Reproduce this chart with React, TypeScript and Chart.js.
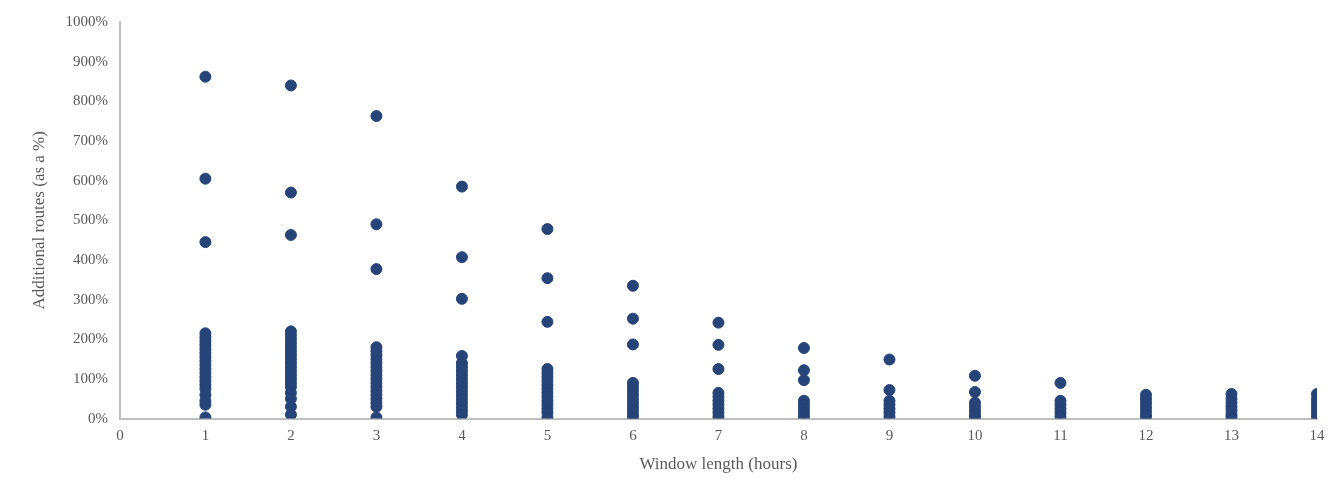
import React, { useEffect, useRef } from "react";
import { Chart, registerables } from "chart.js";
Chart.register(...registerables);

const xTicks = [0,1,2,3,4,5,6,7,8,9,10,11,12,13,14];
const c1 = [862,605,445,215,205,195,185,175,165,155,145,135,125,115,105,95,85,75,60,45,35,3];
const c2 = [840,570,463,220,210,200,190,180,170,160,150,140,130,120,110,100,90,80,65,50,30,10];
const c3 = [763,490,377,180,170,160,150,140,130,120,110,100,90,80,70,60,50,40,30,3];
const c4 = [585,407,302,158,140,130,120,110,100,90,80,70,60,50,40,30,20,10];
const c5 = [478,354,244,125,115,105,95,85,75,65,55,45,35,25,15,3];
const c6 = [335,252,187,90,80,70,60,50,40,30,20,10,3];
const c7 = [242,186,125,65,55,45,35,25,15,5];
const c8 = [178,122,97,45,35,25,15,5];
const c9 = [149,72,45,35,25,15,5];
const c10 = [108,67,40,30,20,10,3];
const c11 = [90,45,35,25,15,5];
const c12 = [60,50,40,30,20,10,3];
const c13 = [62,50,40,30,20,10,3];
const c14 = [62,50,40,30,20,10,3];
const columns = [c1,c2,c3,c4,c5,c6,c7,c8,c9,c10,c11,c12,c13,c14];

export default function App() {
  const ref = useRef<HTMLCanvasElement>(null);
  useEffect(() => {
    const data = columns.flatMap((col, i) => col.map((v) => ({ x: i + 1, y: v })));
    const font = { family: "Liberation Serif", size: 15 };
    const chart = new Chart(ref.current!, {
      type: "scatter",
      data: { datasets: [{ data, backgroundColor: "#264478", borderColor: "#264478", pointRadius: 5.5, pointHoverRadius: 5.5 }] },
      options: {
        animation: false, responsive: false,
        layout: { padding: { top: 17, right: 24, left: 24, bottom: 20 } },
        plugins: { legend: { display: false }, tooltip: { enabled: false } },
        scales: {
          x: { type: "linear", min: 0, max: 14, afterBuildTicks: (a: any) => { a.ticks = xTicks.map((v) => ({ value: v })); },
            grid: { display: false, drawTicks: false }, border: { color: "#bfbfbf", width: 2 },
            ticks: { color: "#595959", font, padding: 8 },
            title: { display: true, text: "Window length (hours)", color: "#595959", font: { family: "Liberation Serif", size: 17 }, padding: { top: 2 } } },
          y: { min: 0, max: 1000, grid: { display: false, drawTicks: false }, border: { color: "#bfbfbf", width: 2 },
            ticks: { stepSize: 100, color: "#595959", font, padding: 12, callback: (v: any) => v + "%" },
            title: { display: true, text: "Additional routes (as a %)", color: "#595959", font: { family: "Liberation Serif", size: 17 } } },
        },
      },
    });
    return () => chart.destroy();
  }, []);
  return (
    <div style={{ width: 1340, height: 498, border: "1px solid #d9d9d9", margin: -8, background: "#fff" }}>
      <canvas ref={ref} width={1340} height={498} />
    </div>
  );
}
